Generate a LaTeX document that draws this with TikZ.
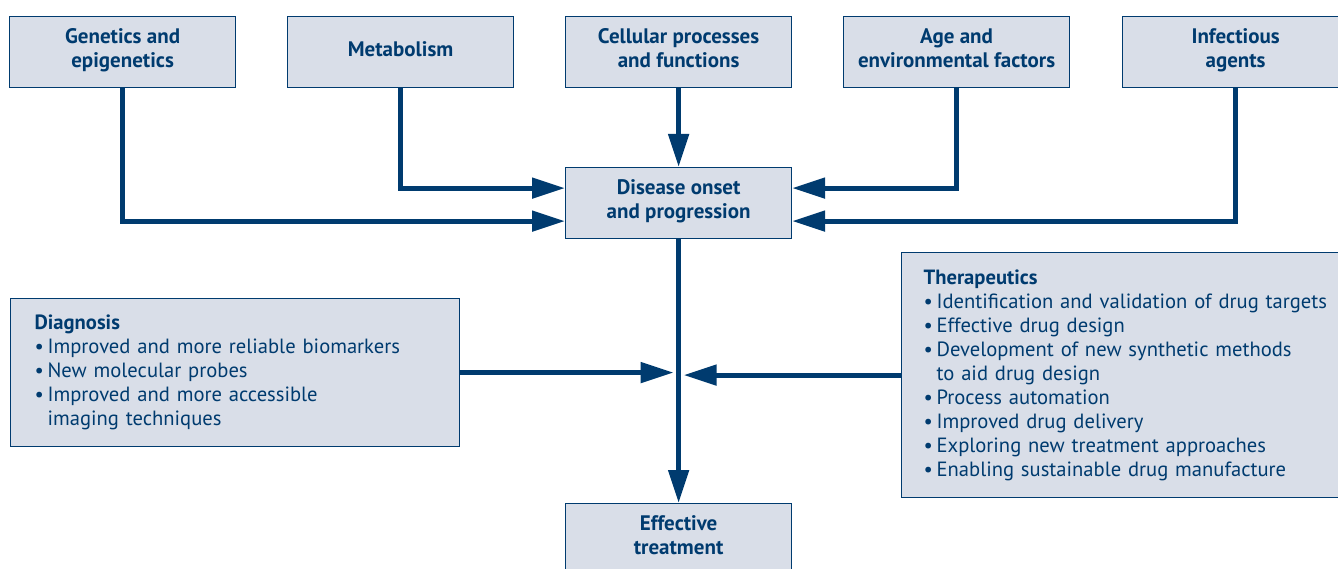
\documentclass[tikz,border=0pt]{standalone}
\usepackage{fontspec}
\setmainfont{PT Sans}
\usetikzlibrary{arrows.meta,positioning}

\definecolor{navy}{RGB}{0,59,111}
\definecolor{paleblue}{RGB}{217,222,232}
\newcommand\bul{\makebox[13pt][l]{\textbullet}}

\begin{document}
\begin{tikzpicture}[x=1pt,y=-1pt,
  box/.style={shape=rectangle,draw=navy,fill=paleblue,line width=1.2pt,anchor=north west,
    minimum width=226pt,minimum height=71pt,align=center,text=navy,
    font=\fontsize{21}{24}\selectfont\bfseries,
    execute at begin node=\strut,execute at end node=\strut},
  listbox/.style={shape=rectangle,draw=navy,fill=paleblue,line width=1.2pt,anchor=north west,
    align=left,text=navy,font=\fontsize{20.6}{24}\selectfont,inner ysep=0pt},
  flow/.style={draw=navy,line width=5pt,-{Triangle[length=33pt,width=20pt]}}]
\clip (0,0) rectangle (1338,569);

\node[box] (gen) at (9,16) {Genetics and\\epigenetics};
\node[box] (met) at (287,16) {Metabolism};
\node[box] (cel) at (565,16) {Cellular processes\\and functions};
\node[box] (age) at (843,16) {Age and\\environmental factors};
\node[box] (inf) at (1122,16) {Infectious\\agents};
\node[box] (dis) at (565,167) {Disease onset\\and progression};
\node[box] (eff) at (565,503) {Effective\\treatment};
\node[listbox,text width=401pt,inner xsep=24pt,minimum height=148pt] (diag) at (10,298) {\textbf{Diagnosis}\\
\bul Improved and more reliable biomarkers\\
\bul New molecular probes\\
\bul Improved and more accessible\\
\hspace*{13pt}imaging techniques};
\node[listbox,text width=406pt,inner xsep=22pt,minimum height=245pt] (ther) at (901,252) {\textbf{Therapeutics}\\
\bul Identification and validation of drug targets\\
\bul Effective drug design\\
\bul Development of new synthetic methods\\
\hspace*{13pt}to aid drug design\\
\bul Process automation\\
\bul Improved drug delivery\\
\bul Exploring new treatment approaches\\
\bul Enabling sustainable drug manufacture};

\path [flow] (gen.south) |- ([yshift=-18pt]dis.west);
\path [flow] (met.south) |- ([yshift=15pt]dis.west);
\path [flow] (cel.south) -- (dis.north);
\path [flow] (age.south) |- ([yshift=15pt]dis.east);
\path [flow] (inf.south) |- ([yshift=-18pt]dis.east);
\path [flow] (dis.south) -- (eff.north);
\path [flow] (diag.east) -- ([xshift=-5pt]dis.south |- diag.east);
\path [flow] (ther.west) -- ([xshift=5pt]dis.south |- ther.west);
\end{tikzpicture}
\end{document}
